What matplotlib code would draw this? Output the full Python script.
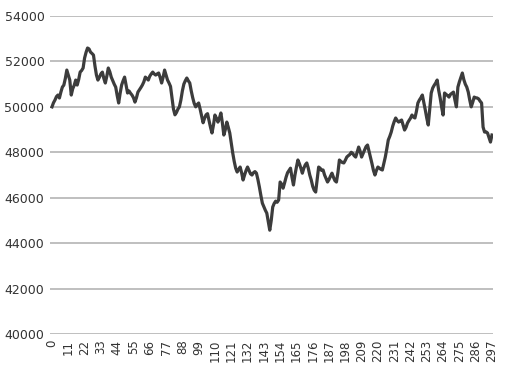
import numpy as np
import matplotlib.pyplot as plt

# values, index 0..297
values = [
    50000, 50180, 50300, 50450, 50520, 50390, 50650, 50870, 50960, 51250,
    51620, 51400, 51180, 50520, 50800, 50950, 51180, 50960, 51200, 51530,
    51600, 51710, 52150, 52400, 52590, 52550, 52410, 52350, 52280, 51800,
    51400, 51180, 51300, 51450, 51530, 51250, 51050, 51350, 51710, 51550,
    51310, 51150, 51000, 50870, 50500, 50170, 50600, 50960, 51150, 51310,
    50950, 50610, 50700, 50600, 50520, 50400, 50210, 50400, 50650, 50750,
    50850, 50960, 51100, 51310, 51250, 51180, 51350, 51450, 51530, 51450,
    51400, 51450, 51490, 51300, 51050, 51300, 51620, 51400, 51180, 51050,
    50900, 50400, 49900, 49650, 49750, 49900, 50000, 50300, 50700, 51000,
    51150, 51270, 51150, 51050, 50700, 50400, 50150, 50000, 50100, 50170,
    49900, 49600, 49300, 49500, 49650, 49700, 49400, 49100, 48850, 49200,
    49640, 49500, 49330, 49500, 49730, 49300, 48760, 49000, 49330, 49100,
    48850, 48400, 47970, 47600, 47300, 47130, 47250, 47350, 47100, 46780,
    47000, 47200, 47350, 47200, 47050, 47000, 47100, 47150, 47080, 46800,
    46470, 46100, 45760, 45600, 45450, 45320, 44950, 44570, 45000, 45590,
    45750, 45850, 45800, 45900, 46690, 46600, 46420, 46650, 46900, 47100,
    47200, 47300, 46900, 46560, 47000, 47350, 47660, 47500, 47300, 47080,
    47300, 47450, 47530, 47300, 47000, 46780, 46500, 46330, 46250, 46800,
    47350, 47300, 47200, 47220, 47000, 46850, 46690, 46800, 46950, 47080,
    46900, 46750, 46690, 47100, 47660, 47600, 47550, 47530, 47650, 47790,
    47850, 47900, 48000, 47950, 47850, 47790, 48000, 48230, 48050, 47790,
    47950, 48100, 48250, 48320, 48050, 47790, 47500, 47200, 47000, 47200,
    47350, 47300, 47250, 47220, 47500, 47790, 48150, 48540, 48700, 48890,
    49150, 49350, 49510, 49400, 49330, 49380, 49420, 49200, 48980, 49100,
    49290, 49400, 49500, 49640, 49550, 49510, 49800, 50170, 50300, 50400,
    50520, 50200, 49860, 49500, 49200, 49900, 50610, 50830, 50950, 51050,
    51180, 50740, 50400, 50000, 49640, 50610, 50550, 50500, 50430, 50550,
    50600, 50650, 50300, 50000, 50870, 51100, 51300, 51490, 51200, 51000,
    50870, 50650, 50300, 50000, 50200, 50430, 50400, 50390, 50350, 50250,
    50170, 49110, 48890, 48900, 48850, 48650, 48450, 48760,
]
x_ticks = list(range(0, 298, 11))
y_ticks = [40000, 42000, 44000, 46000, 48000, 50000, 52000, 54000]

fig = plt.figure(figsize=(5.05, 3.76), dpi=100)
ax = fig.add_axes([50 / 505, 1 - 334 / 376, 443 / 505, 318 / 376])

ax.plot(range(len(values)), values, color='#3c3c3c', lw=2.3, solid_joinstyle='round')

ax.set_ylim(40000, 54000)
ax.set_xlim(-1.35, 297.7)
ax.set_yticks(y_ticks)
ax.set_yticklabels([str(v) for v in y_ticks], fontsize=9, color='#333333')
ax.set_xticks(x_ticks)
ax.set_xticklabels([str(v) for v in x_ticks], rotation=90, fontsize=8.5, color='#333333')
ax.tick_params(length=0, pad=4)
ax.grid(axis='y', color='#b4b4b4', lw=1.2)
ax.set_axisbelow(True)
for s in ax.spines.values():
    s.set_visible(False)

fig.savefig('out.png', dpi=100)
